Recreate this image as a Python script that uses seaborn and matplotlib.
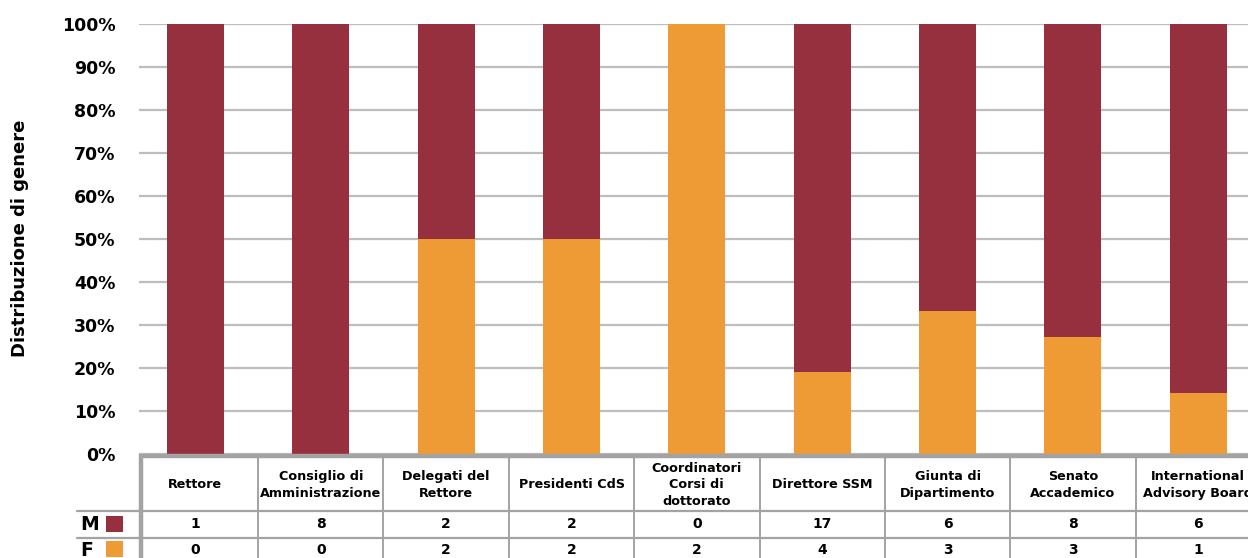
import matplotlib
matplotlib.use("Agg")
import matplotlib.pyplot as plt
import matplotlib.transforms as mtransforms
from matplotlib.patches import Rectangle
from matplotlib.lines import Line2D
import seaborn as sns
import pandas as pd

# Organi di governo e composizione per genere
categorie = [
    "Rettore",
    "Consiglio di\nAmministrazione",
    "Delegati del\nRettore",
    "Presidenti CdS",
    "Coordinatori\nCorsi di\ndottorato",
    "Direttore SSM",
    "Giunta di\nDipartimento",
    "Senato\nAccademico",
    "International\nAdvisory Board",
]
maschi = [1, 8, 2, 2, 0, 17, 6, 8, 6]
femmine = [0, 0, 2, 2, 2, 4, 3, 3, 1]
tick_percentuali = [0, 10, 20, 30, 40, 50, 60, 70, 80, 90, 100]

ROSSO = "#962F3E"
ARANCIO = "#EE9B36"
GRIGIO_GRIGLIA = "#bdbdbd"
GRIGIO_TABELLA = "#a3a3a3"

df = pd.DataFrame({"Organo": categorie, "M": maschi, "F": femmine})
df["Totale"] = df["M"] + df["F"]
df["pct_tot"] = df["Totale"] / df["Totale"] * 100
df["pct_F"] = df["F"] / df["Totale"] * 100

sns.set_theme(style="white")
plt.rcParams["font.family"] = ["DejaVu Sans"]
plt.rcParams["font.weight"] = "bold"
plt.rcParams["text.color"] = "black"

fig = plt.figure(figsize=(12.48, 5.58), dpi=100)
ax = fig.add_axes([139 / 1248, 104 / 558, 1122 / 1248, 430 / 558])

# barre impilate al 100%: prima il totale (M), poi la quota F sopra
sns.barplot(data=df, x="Organo", y="pct_tot", color=ROSSO, saturation=1,
            width=0.455, errorbar=None, ax=ax, zorder=3, linewidth=0)
sns.barplot(data=df, x="Organo", y="pct_F", color=ARANCIO, saturation=1,
            width=0.455, errorbar=None, ax=ax, zorder=4, linewidth=0)

ax.set_xlim(-0.45, 8.5)
ax.set_ylim(0, 100)
ax.set_yticks(tick_percentuali)
ax.set_yticklabels([f"{v}%" for v in tick_percentuali], fontsize=12.5,
                   fontweight="bold", color="black")
ax.tick_params(axis="y", length=0, pad=17)
ax.set_xticks([])
ax.set_xlabel("")
ax.set_ylabel("")
ax.yaxis.grid(True, color=GRIGIO_GRIGLIA, linewidth=1.6, zorder=1)
ax.set_axisbelow(True)
for s in ax.spines.values():
    s.set_visible(False)

fig.text(20 / 1248, 1 - 238 / 558, "Distribuzione di genere", rotation=90,
         ha="center", va="center", fontsize=13, fontweight="bold", color="black")

# tabella dei valori sotto il grafico
tr = mtransforms.blended_transform_factory(ax.transData, ax.transAxes)


def ya(ypx):
    return (454 - ypx) / 430


n = len(categorie)
# cornice spessa
ax.add_line(Line2D([-0.45, 8.6], [ya(455.5)] * 2, transform=tr, color=GRIGIO_TABELLA,
                   linewidth=3.2, clip_on=False, zorder=5, solid_capstyle="butt"))
ax.add_line(Line2D([-0.433, -0.433], [ya(454), ya(560)], transform=tr,
                   color=GRIGIO_TABELLA, linewidth=3.2, clip_on=False, zorder=5,
                   solid_capstyle="butt"))
# righe orizzontali
for ypx in (511, 538):
    ax.add_line(Line2D([-0.944, 8.6], [ya(ypx)] * 2, transform=tr, color=GRIGIO_TABELLA,
                       linewidth=1.6, clip_on=False, zorder=5))
# separatori verticali
for i in range(n - 1):
    ax.add_line(Line2D([i + 0.5, i + 0.5], [ya(458), ya(560)], transform=tr,
                       color=GRIGIO_TABELLA, linewidth=1.4, clip_on=False, zorder=5))

for i, (nome, m, f) in enumerate(zip(categorie, maschi, femmine)):
    ax.text(i, ya(485), nome, transform=tr, ha="center", va="center",
            fontsize=9.2, fontweight="bold", linespacing=1.35, clip_on=False,
            color="black")
    ax.text(i, ya(524.5), str(m), transform=tr, ha="center", va="center",
            fontsize=10, fontweight="bold", clip_on=False, color="black")
    ax.text(i, ya(550), str(f), transform=tr, ha="center", va="center",
            fontsize=10, fontweight="bold", clip_on=False, color="black")

# legenda nella tabella
ax.text(-0.92, ya(524.5), "M", transform=tr, ha="left", va="center",
        fontsize=13.5, fontweight="bold", clip_on=False, color="black")
ax.text(-0.92, ya(551), "F", transform=tr, ha="left", va="center",
        fontsize=13.5, fontweight="bold", clip_on=False, color="black")
ax.add_patch(Rectangle((-0.713, ya(532)), 0.1356, 16 / 430, transform=tr,
                       facecolor=ROSSO, edgecolor="none", clip_on=False))
ax.add_patch(Rectangle((-0.713, ya(557)), 0.1356, 16 / 430, transform=tr,
                       facecolor=ARANCIO, edgecolor="none", clip_on=False))

fig.savefig("out.png", dpi=100)
